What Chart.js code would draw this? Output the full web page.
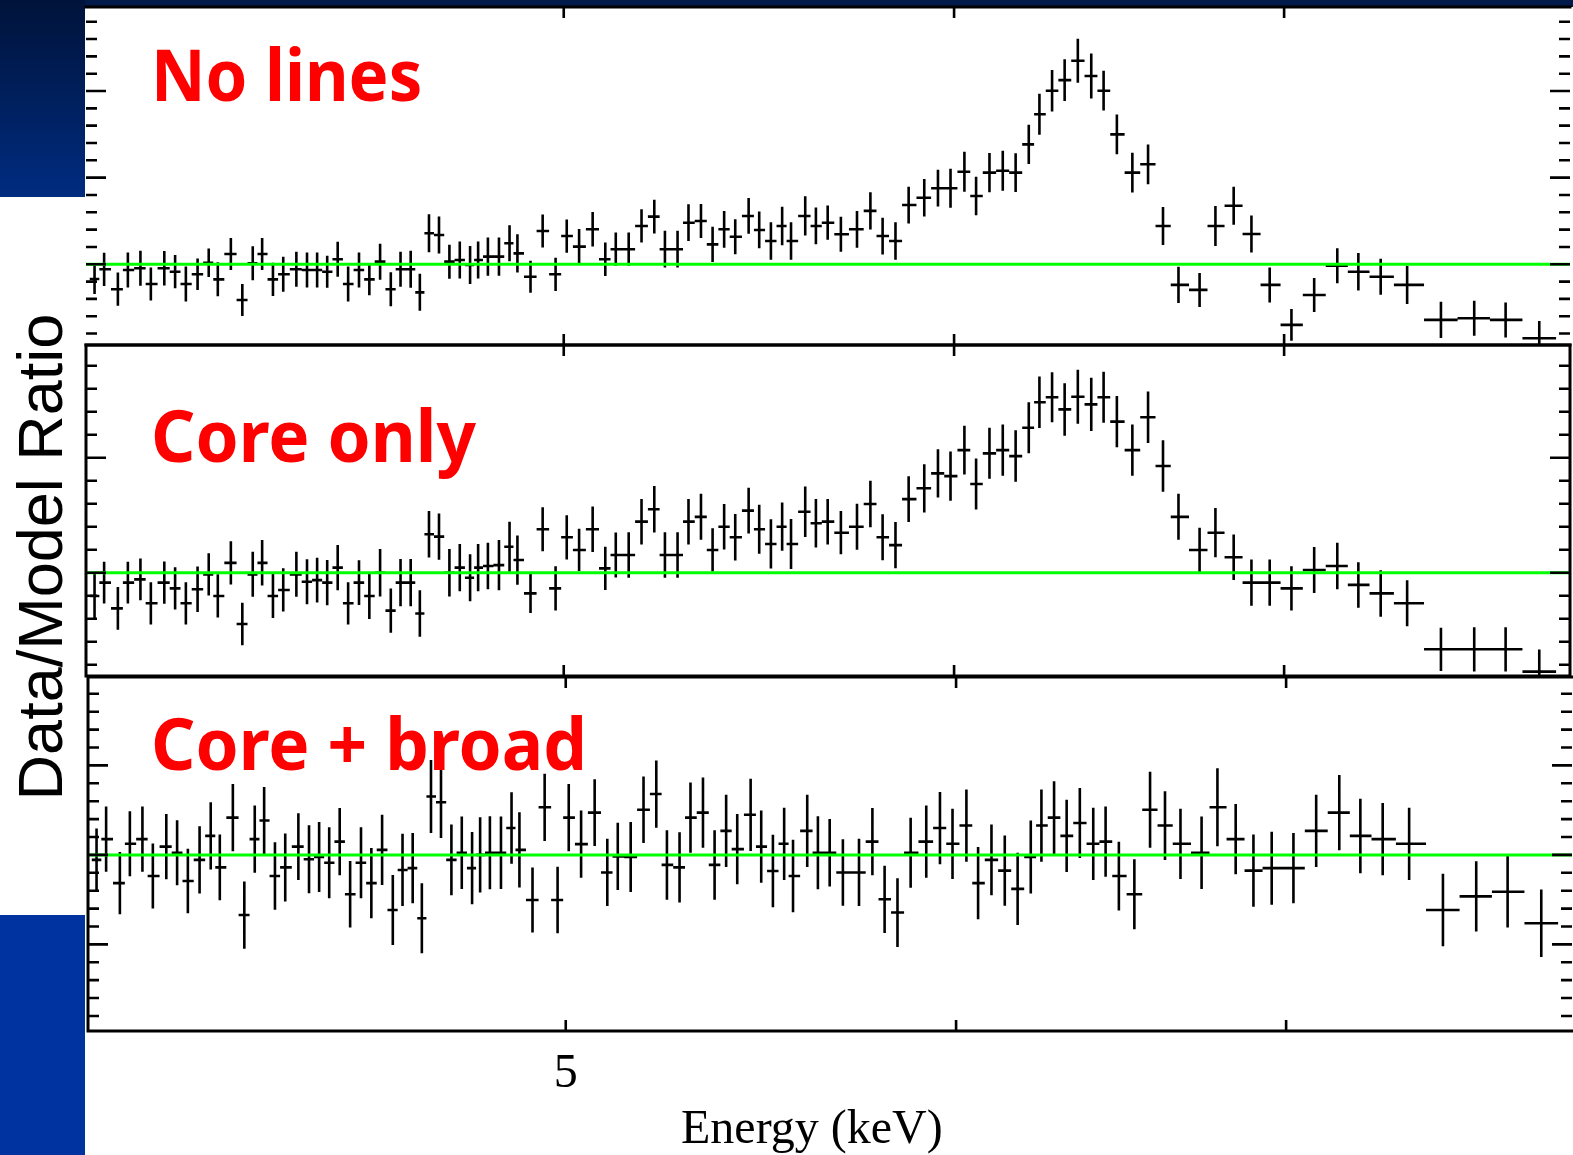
<!DOCTYPE html>
<html>
<head>
<meta charset="utf-8">
<script src="https://cdn.jsdelivr.net/npm/chart.js@4.4.1/dist/chart.umd.min.js"></script>
<style>
html, body { margin: 0; padding: 0; background: #ffffff; }
body { width: 1573px; height: 1155px; position: relative; overflow: hidden; }
.blk { position: absolute; }
#navyTop { left: 0; top: 0; width: 1573px; height: 7px; background: #021a4a; }
#navyLeft { left: 0; top: 0; width: 85px; height: 197px; background: linear-gradient(#00133a, #002c80); }
#blueLeft { left: 0; top: 915px; width: 85px; height: 240px; background: #0033a0; }
canvas { position: absolute; }
.plabel { position: absolute; color: #ff0000; font-family: "Noto Sans", "Open Sans", sans-serif; font-weight: 700;
  font-size: 71px; line-height: 71px; white-space: nowrap; transform-origin: 0 0; }
#ylab { position: absolute; left: -260px; top: 526px; width: 600px; height: 62px; line-height: 62px; text-align: center;
  font-family: "Liberation Sans", Arial, sans-serif; font-size: 63px; color: #000; white-space: nowrap;
  transform-origin: 300px 31px; transform: rotate(-90deg); }
#xlab { position: absolute; left: 681px; top: 1103px; height: 48px; line-height: 48px;
  font-family: "Liberation Serif", "Times New Roman", serif; font-size: 48px; color: #000; white-space: nowrap; }
</style>
</head>
<body>
<div class="blk" id="navyTop"></div>
<div class="blk" id="navyLeft"></div>
<div class="blk" id="blueLeft"></div>

<canvas id="cTop" width="1492" height="346" style="left:82px; top:3px;"></canvas>
<canvas id="cMid" width="1492" height="339" style="left:82px; top:341px;"></canvas>
<canvas id="cBot" width="1492" height="483" style="left:84px; top:673px;"></canvas>

<div class="plabel" id="lab0" style="left:151px; top:38px; transform:scaleX(0.945);"></div>
<div class="plabel" id="lab1" style="left:151px; top:399px; transform:scaleX(0.975);"></div>
<div class="plabel" id="lab2" style="left:151px; top:707px; transform:scaleX(0.975);"></div>
<div id="ylab"></div>
<div id="xlab"></div>

<script>
// ---------------- data ----------------
const energyKeV = [
  4.016, 4.034, 4.060, 4.079, 4.103, 4.123, 4.149, 4.170, 4.191, 4.214,
  4.236, 4.254, 4.280, 4.303, 4.324, 4.343, 4.365, 4.386, 4.413, 4.435,
  4.456, 4.477, 4.499, 4.521, 4.544, 4.566, 4.589, 4.612, 4.633, 4.655,
  4.675, 4.695, 4.717, 4.740, 4.763, 4.786, 4.804, 4.826, 4.851, 4.875,
  4.893, 4.923, 4.951, 4.981, 5.007, 5.036, 5.068, 5.098, 5.123, 5.154,
  5.185, 5.216, 5.242, 5.273, 5.300, 5.331, 5.360, 5.389, 5.417, 5.451,
  5.478, 5.508, 5.537, 5.560, 5.597, 5.625, 5.656, 5.691, 5.734, 5.770,
  5.803, 5.838, 5.874, 5.917, 5.955, 5.990, 6.029, 6.062, 6.100, 6.138,
  6.175, 6.213, 6.244, 6.281, 6.318, 6.357, 6.397, 6.434, 6.474, 6.521,
  6.569, 6.615, 6.663, 6.729, 6.779, 6.837, 6.894, 6.953, 7.024, 7.099,
  7.176, 7.247, 7.323, 7.414, 7.532, 7.650, 7.763, 7.886
];

const noLinesRatio = [
  0.915, 0.971, 0.856, 0.967, 0.977, 0.886, 0.977, 0.957, 0.886, 0.942,
  1.009, 0.913, 1.059, 0.794, 1.006, 1.059, 0.913, 0.942, 0.971, 0.967,
  0.967, 0.957, 1.029, 0.886, 0.967, 0.913, 1.015, 0.856, 0.971, 0.971,
  0.838, 1.179, 1.169, 1.015, 1.025, 0.996, 1.025, 1.044, 1.044, 1.121,
  1.063, 0.928, 1.192, 0.942, 1.163, 1.102, 1.202, 1.029, 1.087, 1.087,
  1.221, 1.275, 1.087, 1.087, 1.240, 1.250, 1.115, 1.202, 1.159, 1.279,
  1.198, 1.134, 1.221, 1.134, 1.279, 1.221, 1.240, 1.173, 1.202, 1.308,
  1.163, 1.134, 1.342, 1.384, 1.439, 1.439, 1.534, 1.394, 1.529, 1.540,
  1.529, 1.692, 1.866, 2.002, 2.063, 2.175, 2.087, 2.002, 1.750, 1.529,
  1.577, 1.221, 0.881, 0.852, 1.221, 1.338, 1.175, 0.881, 0.650, 0.823,
  0.992, 0.957, 0.928, 0.881, 0.679, 0.688, 0.679, 0.573
];
const noLinesErr = [
  0.087, 0.096, 0.096, 0.101, 0.101, 0.095, 0.099, 0.096, 0.101, 0.091,
  0.082, 0.098, 0.092, 0.092, 0.098, 0.092, 0.096, 0.101, 0.101, 0.101,
  0.101, 0.092, 0.101, 0.101, 0.101, 0.092, 0.104, 0.098, 0.101, 0.107,
  0.107, 0.110, 0.107, 0.098, 0.107, 0.110, 0.107, 0.110, 0.110, 0.104,
  0.110, 0.092, 0.095, 0.096, 0.096, 0.101, 0.099, 0.096, 0.096, 0.096,
  0.096, 0.098, 0.106, 0.106, 0.106, 0.098, 0.102, 0.106, 0.101, 0.103,
  0.106, 0.108, 0.111, 0.108, 0.113, 0.106, 0.099, 0.101, 0.106, 0.108,
  0.106, 0.108, 0.106, 0.108, 0.106, 0.113, 0.115, 0.111, 0.113, 0.115,
  0.112, 0.113, 0.118, 0.120, 0.120, 0.127, 0.130, 0.115, 0.115, 0.115,
  0.115, 0.110, 0.104, 0.098, 0.115, 0.110, 0.107, 0.101, 0.092, 0.098,
  0.101, 0.108, 0.104, 0.110, 0.104, 0.101, 0.101, 0.100
];

const coreOnlyRatio = [
  0.899, 0.957, 0.845, 0.957, 0.971, 0.867, 0.957, 0.932, 0.867, 0.928,
  0.993, 0.899, 1.043, 0.777, 0.993, 1.043, 0.899, 0.925, 0.993, 0.961,
  0.968, 0.957, 1.022, 0.867, 0.957, 0.899, 1.000, 0.835, 0.957, 0.957,
  0.823, 1.167, 1.157, 1.000, 1.022, 0.978, 1.022, 1.029, 1.033, 1.113,
  1.055, 0.910, 1.189, 0.932, 1.154, 1.099, 1.189, 1.019, 1.077, 1.077,
  1.222, 1.276, 1.077, 1.077, 1.222, 1.243, 1.099, 1.200, 1.154, 1.270,
  1.189, 1.125, 1.200, 1.125, 1.265, 1.215, 1.222, 1.174, 1.200, 1.299,
  1.154, 1.120, 1.320, 1.367, 1.432, 1.420, 1.533, 1.386, 1.519, 1.533,
  1.507, 1.630, 1.741, 1.763, 1.710, 1.765, 1.732, 1.763, 1.657, 1.533,
  1.676, 1.464, 1.243, 1.099, 1.174, 1.067, 0.957, 0.957, 0.932, 1.012,
  1.029, 0.947, 0.910, 0.867, 0.667, 0.667, 0.667, 0.570
];
const coreOnlyErr = [
  0.098, 0.091, 0.093, 0.091, 0.091, 0.092, 0.092, 0.092, 0.092, 0.099,
  0.092, 0.094, 0.094, 0.092, 0.098, 0.099, 0.096, 0.094, 0.098, 0.098,
  0.097, 0.098, 0.098, 0.092, 0.097, 0.100, 0.103, 0.096, 0.103, 0.103,
  0.101, 0.101, 0.101, 0.103, 0.103, 0.102, 0.103, 0.101, 0.109, 0.109,
  0.107, 0.085, 0.096, 0.096, 0.096, 0.092, 0.099, 0.094, 0.098, 0.099,
  0.099, 0.101, 0.099, 0.099, 0.099, 0.100, 0.094, 0.099, 0.101, 0.099,
  0.107, 0.107, 0.105, 0.109, 0.110, 0.105, 0.099, 0.094, 0.100, 0.101,
  0.100, 0.101, 0.099, 0.105, 0.105, 0.107, 0.106, 0.111, 0.111, 0.111,
  0.112, 0.111, 0.112, 0.109, 0.114, 0.117, 0.116, 0.111, 0.111, 0.111,
  0.112, 0.112, 0.100, 0.096, 0.107, 0.099, 0.101, 0.101, 0.096, 0.100,
  0.101, 0.099, 0.101, 0.100, 0.094, 0.096, 0.096, 0.096
];

const coreBroadRatio = [
  0.986, 1.044, 0.921, 1.031, 1.044, 0.941, 1.023, 1.006, 0.927, 0.986,
  1.053, 0.965, 1.104, 0.832, 1.044, 1.096, 0.941, 0.965, 1.023, 0.988,
  0.994, 0.978, 1.037, 0.890, 0.978, 0.921, 1.014, 0.846, 0.958, 0.963,
  0.823, 1.163, 1.147, 0.986, 1.006, 0.963, 1.000, 1.006, 1.006, 1.075,
  1.014, 0.874, 1.133, 0.874, 1.104, 1.030, 1.118, 0.951, 0.996, 0.994,
  1.126, 1.170, 0.972, 0.965, 1.104, 1.118, 0.972, 1.067, 1.016, 1.112,
  1.023, 0.955, 1.031, 0.941, 1.067, 1.006, 1.006, 0.951, 0.951, 1.037,
  0.876, 0.839, 1.006, 1.037, 1.075, 1.031, 1.082, 0.921, 0.986, 0.956,
  0.905, 0.994, 1.082, 1.104, 1.053, 1.089, 1.031, 1.037, 0.941, 0.890,
  1.126, 1.082, 1.031, 1.006, 1.133, 1.044, 0.956, 0.963, 0.963, 1.067,
  1.118, 1.053, 1.044, 1.031, 0.846, 0.884, 0.897, 0.809
];
const coreBroadErr = [
  0.088, 0.091, 0.087, 0.091, 0.091, 0.091, 0.091, 0.091, 0.090, 0.094,
  0.094, 0.092, 0.094, 0.094, 0.094, 0.094, 0.094, 0.095, 0.093, 0.095,
  0.098, 0.099, 0.094, 0.093, 0.099, 0.098, 0.098, 0.098, 0.101, 0.098,
  0.098, 0.102, 0.100, 0.099, 0.101, 0.101, 0.105, 0.102, 0.101, 0.100,
  0.105, 0.091, 0.094, 0.093, 0.094, 0.094, 0.093, 0.094, 0.094, 0.098,
  0.093, 0.094, 0.097, 0.098, 0.098, 0.098, 0.097, 0.101, 0.098, 0.101,
  0.101, 0.101, 0.101, 0.101, 0.101, 0.102, 0.094, 0.093, 0.094, 0.094,
  0.094, 0.096, 0.098, 0.101, 0.101, 0.098, 0.101, 0.101, 0.099, 0.098,
  0.101, 0.102, 0.101, 0.102, 0.101, 0.098, 0.101, 0.098, 0.096, 0.098,
  0.106, 0.096, 0.098, 0.101, 0.109, 0.098, 0.101, 0.102, 0.098, 0.101,
  0.105, 0.104, 0.101, 0.101, 0.101, 0.098, 0.100, 0.094
];

const panelLabels = ['No lines', 'Core only', 'Core + broad'];
const yAxisTitle = 'Data/Model Ratio';
const xAxisTitle = 'Energy (keV)';
const xTickValues = [5, 6, 7];
const xTickLabels = { 5: '5' };
const modelLevel = 1;

const topYTicks = [0.6, 0.7, 0.8, 0.9, 1.0, 1.1, 1.2, 1.3, 1.4, 1.5, 1.6, 1.7, 1.8, 1.9, 2.0, 2.1, 2.2, 2.3, 2.4];
const topYMajor = [1.0, 1.5, 2.0];
const midYTicks = [0.6, 0.7, 0.8, 0.9, 1.0, 1.1, 1.2, 1.3, 1.4, 1.5, 1.6, 1.7, 1.8, 1.9];
const midYMajor = [1.0, 1.5];
const botYTicks = [0.55, 0.6, 0.65, 0.7, 0.75, 0.8, 0.85, 0.9, 0.95, 1.0, 1.05, 1.1, 1.15, 1.2, 1.25, 1.3, 1.35, 1.4, 1.45];
const botYMajor = [0.75, 1.0, 1.25];

// ---------------- helpers ----------------
// contiguous bins: edges at geometric midpoints between neighbouring bin centres
function binEdges(E) {
  const lo = [], hi = [];
  for (let i = 0; i < E.length; i++) {
    const prev = i > 0 ? Math.sqrt(E[i - 1] * E[i]) : E[i] * Math.sqrt(E[i] / E[i + 1]);
    const next = i < E.length - 1 ? Math.sqrt(E[i] * E[i + 1]) : E[i] * Math.sqrt(E[i] / E[i - 1]);
    lo.push(prev); hi.push(next);
  }
  return { lo, hi };
}
const edges = binEdges(energyKeV);

function makePoints(ratio, err) {
  return energyKeV.map((e, i) => ({
    x: e, y: ratio[i],
    xMin: edges.lo[i], xMax: edges.hi[i],
    yMin: ratio[i] - err[i], yMax: ratio[i] + err[i]
  }));
}

const panelPlugin = {
  id: 'panel',
  beforeDatasetsDraw(chart) {
    const { ctx, chartArea: a } = chart;
    const xs = chart.scales.x, ys = chart.scales.y;
    const ds = chart.data.datasets.find(d => d.isSpectrum);
    ctx.save();
    ctx.beginPath();
    ctx.rect(a.left, a.top, a.right - a.left, a.bottom - a.top);
    ctx.clip();
    ctx.strokeStyle = '#000';
    ctx.lineWidth = 2.6;
    ctx.beginPath();
    for (const p of ds.data) {
      const px = xs.getPixelForValue(p.x);
      const py = ys.getPixelForValue(p.y);
      ctx.moveTo(xs.getPixelForValue(p.xMin), py);
      ctx.lineTo(xs.getPixelForValue(p.xMax), py);
      ctx.moveTo(px, ys.getPixelForValue(p.yMin));
      ctx.lineTo(px, ys.getPixelForValue(p.yMax));
    }
    ctx.stroke();
    ctx.restore();
  },
  afterDraw(chart, args, opts) {
    const { ctx, chartArea: a } = chart;
    const xs = chart.scales.x, ys = chart.scales.y;
    ctx.save();
    ctx.strokeStyle = '#000';
    ctx.lineWidth = 2.6;
    ctx.beginPath();
    // y ticks (left and right, pointing inward)
    for (const v of opts.yTicks) {
      const py = ys.getPixelForValue(v);
      const len = opts.yMajor.some(m => Math.abs(m - v) < 1e-6) ? 20 : 11;
      ctx.moveTo(a.left, py); ctx.lineTo(a.left + len, py);
      ctx.moveTo(a.right, py); ctx.lineTo(a.right - len, py);
    }
    // x ticks (top and bottom, pointing inward)
    for (const v of xTickValues) {
      const px = xs.getPixelForValue(v);
      ctx.moveTo(px, a.top); ctx.lineTo(px, a.top + 11);
      ctx.moveTo(px, a.bottom); ctx.lineTo(px, a.bottom - 11);
    }
    ctx.stroke();
    // frame
    ctx.lineWidth = 3;
    ctx.beginPath();
    const s = opts.sides;
    if (s.top) { ctx.moveTo(a.left - 1.5, a.top); ctx.lineTo(a.right + 1.5, a.top); }
    if (s.bottom) { ctx.moveTo(a.left - 1.5, a.bottom); ctx.lineTo(a.right + 1.5, a.bottom); }
    if (s.left) { ctx.moveTo(a.left, a.top); ctx.lineTo(a.left, a.bottom); }
    if (s.right) { ctx.moveTo(a.right, a.top); ctx.lineTo(a.right, a.bottom); }
    ctx.stroke();
    ctx.restore();
  }
};

function makeChart(id, ratio, err, yMin, yMax, yTicks, yMajor, sides, showX) {
  const xScale = {
    type: 'logarithmic', min: 4, max: 8, display: showX,
    grid: { display: false, drawTicks: false }, border: { display: false },
    afterBuildTicks: sc => { sc.ticks = xTickValues.map(v => ({ value: v })); },
    ticks: {
      autoSkip: false, maxRotation: 0, minRotation: 0, padding: 15, color: '#000',
      font: { family: 'Liberation Serif', size: 48 },
      callback: v => xTickLabels[v] || ''
    },
    title: { display: false }
  };
  if (showX) { xScale.afterFit = sc => { sc.height = 125; }; }
  return new Chart(document.getElementById(id), {
    type: 'scatter',
    data: {
      datasets: [
        { type: 'line', data: [{ x: 4, y: modelLevel }, { x: 8, y: modelLevel }],
          borderColor: '#00ff00', borderWidth: 3, pointRadius: 0, fill: false, tension: 0 },
        { isSpectrum: true, data: makePoints(ratio, err), pointRadius: 0, pointHoverRadius: 0,
          borderColor: 'rgba(0,0,0,0)', backgroundColor: 'rgba(0,0,0,0)', showLine: false }
      ]
    },
    options: {
      responsive: false, animation: false, devicePixelRatio: 1, events: [],
      layout: { padding: { left: 4, right: 4, top: 4, bottom: showX ? 0 : 4 } },
      plugins: {
        legend: { display: false }, tooltip: { enabled: false },
        panel: { yTicks, yMajor, sides }
      },
      scales: {
        x: xScale,
        y: { type: 'linear', min: yMin, max: yMax, display: false }
      }
    },
    plugins: [panelPlugin]
  });
}

makeChart('cTop', noLinesRatio, noLinesErr, 0.534, 2.485, topYTicks, topYMajor,
          { top: true, bottom: true, left: false, right: false }, false);
makeChart('cMid', coreOnlyRatio, coreOnlyErr, 0.551, 1.990, midYTicks, midYMajor,
          { top: true, bottom: true, left: true, right: true }, false);
makeChart('cBot', coreBroadRatio, coreBroadErr, 0.508, 1.497, botYTicks, botYMajor,
          { top: true, bottom: true, left: true, right: false }, true);

document.getElementById('lab0').textContent = panelLabels[0];
document.getElementById('lab1').textContent = panelLabels[1];
document.getElementById('lab2').textContent = panelLabels[2];
document.getElementById('ylab').textContent = yAxisTitle;
document.getElementById('xlab').textContent = xAxisTitle;
</script>
</body>
</html>
